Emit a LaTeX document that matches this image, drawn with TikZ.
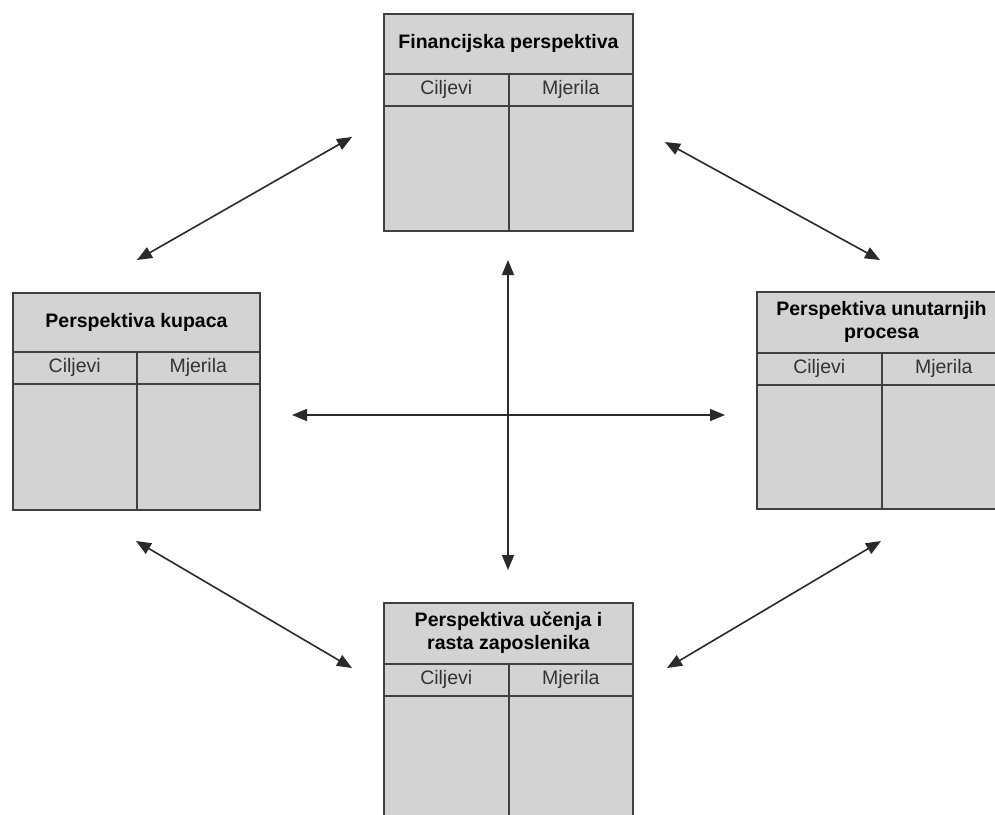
\documentclass[tikz,border=0pt]{standalone}
\usepackage{fontspec}
\setmainfont{Liberation Sans}
\usetikzlibrary{arrows.meta}
\definecolor{boxfill}{HTML}{D3D3D3}
\definecolor{boxline}{HTML}{404040}
\definecolor{arrowc}{HTML}{2A2A2A}
\definecolor{subtext}{HTML}{333333}
\begin{document}
\begin{tikzpicture}[x=1pt,y=-1pt,
  panel/.style={draw=boxline, fill=boxfill, line width=2pt, inner sep=0pt,
    minimum width=249pt, minimum height=217pt, anchor=north west},
  rule/.style={draw=boxline, line width=2pt},
  head/.style={font=\fontsize{19.5}{23}\selectfont\bfseries, align=center, text=black},
  sub/.style={font=\fontsize{19.5}{23}\selectfont, text=subtext},
  link/.style={draw=arrowc, line width=1.6pt,
    {Triangle[length=15pt,width=12pt]}-{Triangle[length=15pt,width=12pt]}}
]
\clip (0,0) rectangle (995,814);
\fill[white] (0,0) rectangle (995,814);

% boxes
\node[panel] (fin) at (383,13) {};
\node[panel, minimum width=247pt] (kup) at (12,292) {};
\node[panel] (unu) at (756,291) {};
\node[panel] (uce) at (383,602) {};

\foreach \b/\h in {fin/61, kup/60, unu/62, uce/62}{
  \draw[rule] ([yshift=-\h pt]\b.north west) -- ([yshift=-\h pt]\b.north east);
  \draw[rule] ([yshift=-\h pt-31.5pt]\b.north west) -- ([yshift=-\h pt-31.5pt]\b.north east);
  \draw[rule] ([yshift=-\h pt]\b.north) -- (\b.south);
}

% header texts
\node[head] (finT) at ([yshift=-30.5pt]fin.north) {Financijska perspektiva};
\node[head] (kupT) at ([yshift=-30pt]kup.north) {Perspektiva kupaca};
\node[head] (unuT) at ([yshift=-31pt]unu.north) {Perspektiva unutarnjih\\procesa};
\node[head] (uceT) at ([yshift=-31pt]uce.north) {Perspektiva učenja i\\rasta zaposlenika};

% column texts
\node[sub] (finC) at ([xshift=-62.25pt,yshift=-76.5pt]fin.north) {Ciljevi};
\node[sub] (finM) at ([xshift=62.25pt,yshift=-76.5pt]fin.north) {Mjerila};
\node[sub] (kupC) at ([xshift=-61.75pt,yshift=-75.5pt]kup.north) {Ciljevi};
\node[sub] (kupM) at ([xshift=61.75pt,yshift=-75.5pt]kup.north) {Mjerila};
\node[sub] (unuC) at ([xshift=-62.25pt,yshift=-77.5pt]unu.north) {Ciljevi};
\node[sub] (unuM) at ([xshift=62.25pt,yshift=-77.5pt]unu.north) {Mjerila};
\node[sub] (uceC) at ([xshift=-62.25pt,yshift=-77.5pt]uce.north) {Ciljevi};
\node[sub] (uceM) at ([xshift=62.25pt,yshift=-77.5pt]uce.north) {Mjerila};

% arrow end points
\coordinate (vt) at (508,260);
\coordinate (vb) at (508,570);
\coordinate (hl) at (292,415);
\coordinate (hr) at (725,415);
\coordinate (tl1) at (137,260);
\coordinate (tl2) at (352,137);
\coordinate (tr1) at (665,142);
\coordinate (tr2) at (880,260);
\coordinate (bl1) at (136,541);
\coordinate (bl2) at (352,668);
\coordinate (br1) at (881,541);
\coordinate (br2) at (667,668);

\draw[link] (vt) -- (vb);
\draw[link] (hl) -- (hr);
\draw[link] (tl1) -- (tl2);
\draw[link] (tr1) -- (tr2);
\draw[link] (bl1) -- (bl2);
\draw[link] (br1) -- (br2);
\end{tikzpicture}
\end{document}
